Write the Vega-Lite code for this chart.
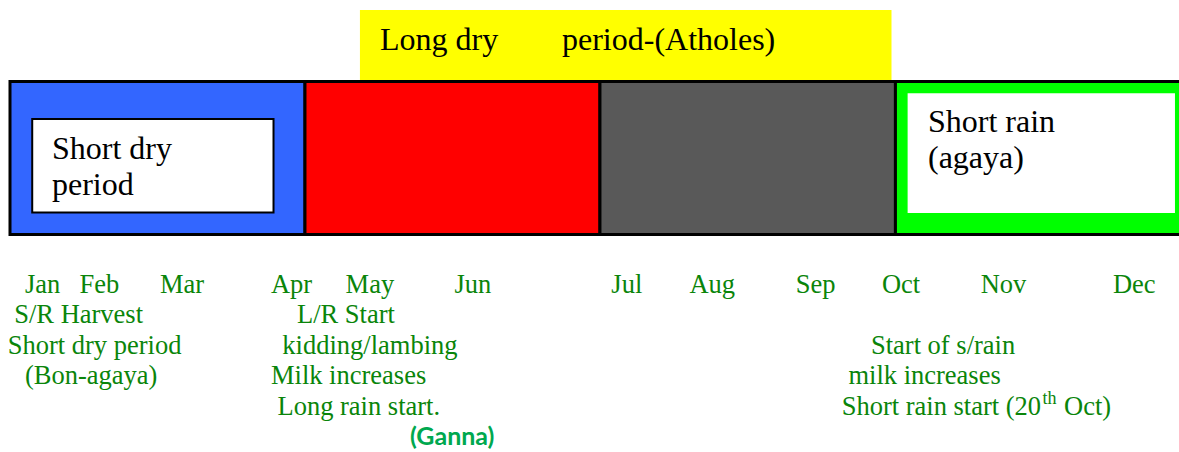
{
  "$schema": "https://vega.github.io/schema/vega-lite/v6.json",
  "width": 1179,
  "height": 452,
  "autosize": {"type": "fit", "contains": "padding"},
  "padding": 0,
  "background": "white",
  "config": {"view": {"stroke": null}},
  "datasets": {
    "boxes": [
      {"zone": "Long dry period (Atholes)", "x": 3.559, "x2": 8.965, "y": -9.309, "y2": -6.957},
      {"zone": "Short dry period", "x": 0, "x2": 3, "y": -6.957, "y2": -1.924},
      {"zone": "Long rain (Ganna)", "x": 3, "x2": 6, "y": -6.957, "y2": -1.924},
      {"zone": "Long dry", "x": 6, "x2": 9.005, "y": -6.957, "y2": -1.924},
      {"zone": "Short rain (agaya)", "x": 9.005, "x2": 12.5, "y": -6.957, "y2": -1.924},
      {"zone": "Short dry inset", "x": 0.226, "x2": 2.68, "y": -5.724, "y2": -2.648},
      {"zone": "Short rain inset", "x": 9.129, "x2": 11.848, "y": -6.569, "y2": -2.632}
    ],
    "labels": [
      {"kind": "box", "text": "Long dry", "x": 3.763, "y": -7.993},
      {"kind": "box", "text": "period-(Atholes)", "x": 5.614, "y": -7.993},
      {"kind": "box", "text": "Short dry", "x": 0.427, "y": -4.401},
      {"kind": "box", "text": "period", "x": 0.427, "y": -3.224},
      {"kind": "box", "text": "Short rain", "x": 9.336, "y": -5.306},
      {"kind": "box", "text": "(agaya)", "x": 9.336, "y": -4.102},
      {"kind": "note", "text": "Jan", "x": 0.152, "y": 0},
      {"kind": "note", "text": "Feb", "x": 0.708, "y": 0},
      {"kind": "note", "text": "Mar", "x": 1.525, "y": 0},
      {"kind": "note", "text": "Apr", "x": 2.654, "y": 0},
      {"kind": "note", "text": "May", "x": 3.413, "y": 0},
      {"kind": "note", "text": "Jun", "x": 4.521, "y": 0},
      {"kind": "note", "text": "Jul", "x": 6.116, "y": 0},
      {"kind": "note", "text": "Aug", "x": 6.91, "y": 0},
      {"kind": "note", "text": "Sep", "x": 7.992, "y": 0},
      {"kind": "note", "text": "Oct", "x": 8.868, "y": 0},
      {"kind": "note", "text": "Nov", "x": 9.872, "y": 0},
      {"kind": "note", "text": "Dec", "x": 11.217, "y": 0},
      {"kind": "note", "text": "S/R Harvest", "x": 0.043, "y": 1},
      {"kind": "note", "text": "Short dry period", "x": -0.023, "y": 2},
      {"kind": "note", "text": "(Bon-agaya)", "x": 0.152, "y": 3},
      {"kind": "note", "text": "L/R Start", "x": 2.919, "y": 1},
      {"kind": "note", "text": "kidding/lambing", "x": 2.77, "y": 2},
      {"kind": "note", "text": "Milk increases", "x": 2.654, "y": 3},
      {"kind": "note", "text": "Long rain start.", "x": 2.72, "y": 4},
      {"kind": "ganna", "text": "(Ganna)", "x": 4.068, "y": 5},
      {"kind": "note", "text": "Start of s/rain", "x": 8.756, "y": 2},
      {"kind": "note", "text": "milk increases", "x": 8.527, "y": 3},
      {"kind": "note", "text": "Short rain start (20", "x": 8.458, "y": 4},
      {"kind": "sup", "text": "th", "x": 10.5, "y": 3.65},
      {"kind": "note", "text": "Oct)", "x": 10.72, "y": 4}
    ]
  },
  "encoding": {
    "x": {"field": "x", "type": "quantitative", "axis": null, "scale": {"domain": [-0.1017, 11.889], "nice": false, "zero": false}},
    "y": {"field": "y", "type": "quantitative", "axis": null, "scale": {"domain": [-9.638, 5.23], "nice": false, "zero": false, "reverse": true}}
  },
  "layer": [
    {
      "data": {"name": "boxes"},
      "transform": [{"filter": "datum.zone === 'Long dry period (Atholes)'"}],
      "mark": {"type": "rect", "color": "#FFFF00", "clip": true},
      "encoding": {"x2": {"field": "x2"}, "y2": {"field": "y2"}}
    },
    {
      "data": {"name": "boxes"},
      "transform": [{"filter": "indexof(['Short dry period','Long rain (Ganna)','Long dry','Short rain (agaya)'], datum.zone) >= 0"}],
      "mark": {"type": "rect", "stroke": "black", "strokeWidth": 3, "clip": true, "fillOpacity": 1},
      "encoding": {
        "x2": {"field": "x2"},
        "y2": {"field": "y2"},
        "fill": {"field": "zone", "type": "nominal", "legend": null,
          "scale": {"domain": ["Short dry period", "Long rain (Ganna)", "Long dry", "Short rain (agaya)"],
                    "range": ["#3366FF", "#FF0000", "#595959", "#00FF00"]}}
      }
    },
    {
      "data": {"name": "boxes"},
      "transform": [{"filter": "datum.zone === 'Short dry inset'"}],
      "mark": {"type": "rect", "fill": "white", "stroke": "black", "strokeWidth": 2, "clip": true},
      "encoding": {"x2": {"field": "x2"}, "y2": {"field": "y2"}}
    },
    {
      "data": {"name": "boxes"},
      "transform": [{"filter": "datum.zone === 'Short rain inset'"}],
      "mark": {"type": "rect", "fill": "white", "clip": true},
      "encoding": {"x2": {"field": "x2"}, "y2": {"field": "y2"}}
    },
    {
      "data": {"name": "labels"},
      "transform": [{"filter": "datum.kind === 'box'"}],
      "mark": {"type": "text", "align": "left", "baseline": "alphabetic", "font": "Liberation Serif", "fontSize": 32, "color": "black"},
      "encoding": {"text": {"field": "text"}}
    },
    {
      "data": {"name": "labels"},
      "transform": [{"filter": "datum.kind === 'note'"}],
      "mark": {"type": "text", "align": "left", "baseline": "alphabetic", "font": "Liberation Serif", "fontSize": 26.5, "color": "#0A850A"},
      "encoding": {"text": {"field": "text"}}
    },
    {
      "data": {"name": "labels"},
      "transform": [{"filter": "datum.kind === 'sup'"}],
      "mark": {"type": "text", "align": "left", "baseline": "alphabetic", "font": "Liberation Serif", "fontSize": 18, "color": "#0A850A"},
      "encoding": {"text": {"field": "text"}}
    },
    {
      "data": {"name": "labels"},
      "transform": [{"filter": "datum.kind === 'ganna'"}],
      "mark": {"type": "text", "align": "left", "baseline": "alphabetic", "font": "Lato", "fontWeight": "bold", "fontSize": 25, "color": "#00A84F"},
      "encoding": {"text": {"field": "text"}}
    }
  ]
}
